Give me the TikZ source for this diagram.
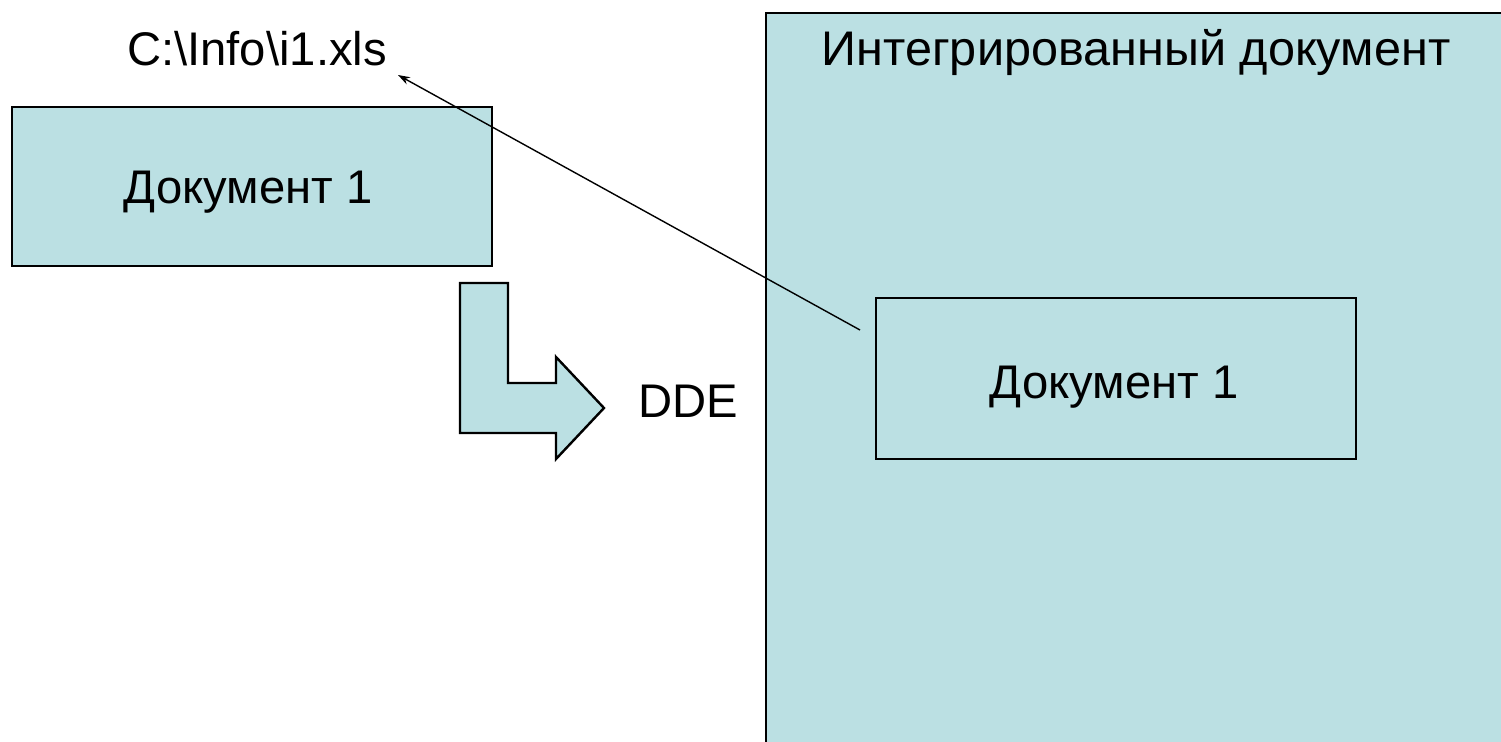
\documentclass[tikz,border=0pt]{standalone}
\usepackage{fontspec}
\setmainfont{Liberation Sans}
\usetikzlibrary{arrows.meta}
\definecolor{fillblue}{RGB}{187,224,227}
\begin{document}
\begin{tikzpicture}[x=0.5pt,y=-0.5pt,
  lbl/.style={inner sep=0pt,font=\fontsize{23.6}{28}\selectfont},
  docbox/.style={draw=black,line width=1.2pt,fill=fillblue,inner sep=0pt},
  link/.style={draw=black,line width=0.7pt,-{Stealth[length=6pt,width=4pt]}}]
\useasboundingbox (0,0) rectangle (1501,741);
\clip (0,0) rectangle (1501,741);
% big integrated document
\node[docbox,anchor=north west,minimum width=760*0.5pt,minimum height=760*0.5pt] (big) at (765,12) {};
\node[lbl,anchor=base,font=\fontsize{24.3}{28}\selectfont] (bigtitle) at (1136,65) {Интегрированный документ};
% left document
\node[docbox,minimum width=480*0.5pt,minimum height=159*0.5pt] (doc1) at (252,186.5) {};
\node[lbl,anchor=base] (doc1t) at (248,203) {Документ 1};
% inner document
\node[docbox,minimum width=480*0.5pt,minimum height=161*0.5pt] (doc2) at (1116,378.5) {};
\node[lbl,anchor=base] (doc2t) at (1114,398) {Документ 1};
% file label
\node[lbl,anchor=base] (file) at (257,65) {C:\textbackslash Info\textbackslash i1.xls};
% bent arrow
\draw[line width=1.2pt,fill=fillblue,line join=miter]
  (460,283) -- (508,283) -- (508,383) -- (556,383) -- (556,357) -- (604,408)
  -- (556,459) -- (556,433) -- (460,433) -- cycle;
\node[lbl,anchor=base] (dde) at (688,417) {DDE};
% link
\coordinate (src) at (860,330);
\coordinate (dst) at (398,75);
\draw[link] (src) -- (dst);
\end{tikzpicture}
\end{document}
